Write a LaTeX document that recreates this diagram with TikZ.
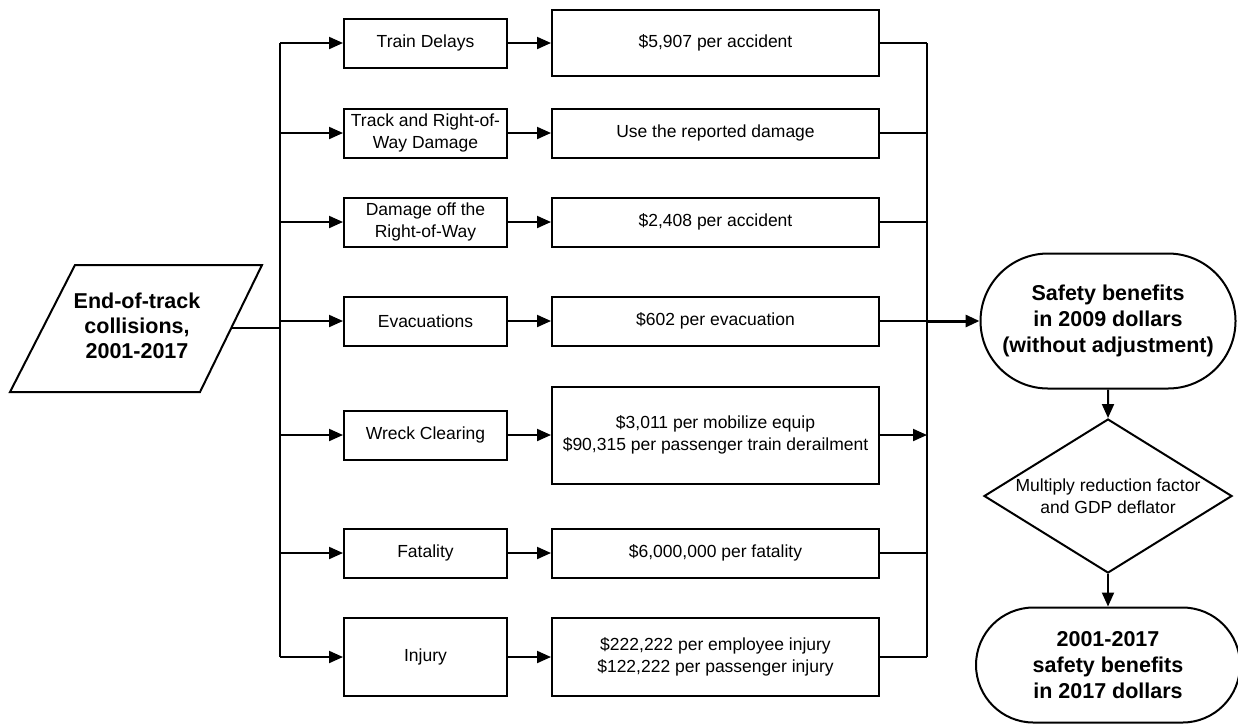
\documentclass[tikz,border=0pt]{standalone}
\usepackage{fontspec}
\setmainfont{Liberation Sans}
\usetikzlibrary{arrows.meta,shapes.geometric,shapes.misc}

\tikzset{
  ln/.style={line width=2pt},
  arr/.style={ln, -{Triangle[length=14pt,width=12pt]}},
  box/.style={draw, ln, minimum width=163pt, minimum height=49pt, inner sep=0pt,
    align=center, font=\fontsize{17.5}{21.5}\selectfont},
  cost/.style={box, minimum width=327pt},
  term/.style={draw, ln, rounded rectangle, minimum width=255pt, minimum height=135pt,
    inner sep=0pt, align=center, font=\fontsize{21.5}{26}\selectfont\bfseries},
  decide/.style={draw, ln, diamond, aspect=1.6, inner sep=0pt, minimum width=248pt,
    minimum height=154pt, align=center, font=\fontsize{17.5}{21.5}\selectfont}
}

\begin{document}
\begin{tikzpicture}[x=1pt,y=-1pt]
\useasboundingbox (0,0) rectangle (1238,724);

% source
\draw[ln] (75,265)--(262,265)--(200,392)--(10,392)--cycle;
\node[align=center, font=\fontsize{21.5}{25}\selectfont\bfseries] (src) at (137,326) {End-of-track\\collisions,\\2001-2017};
\coordinate (srcout) at (231,328);
\coordinate (jl) at (280,328);

% cost items
\node[box] (td) at (425.5,43) {Train Delays};
\node[box] (tr) at (425.5,133) {Track and Right-of-\\Way Damage};
\node[box] (dm) at (425.5,222) {Damage off the\\Right-of-Way};
\node[box] (ev) at (425.5,321) {Evacuations};
\node[box] (wc) at (425.5,435) {Wreck Clearing};
\node[box] (fa) at (425.5,553) {Fatality};
\node[box, minimum height=78pt] (inj) at (425.5,657) {Injury};

% unit costs
\node[cost, minimum height=66pt] (c1) at (715.5,43) {\$5,907 per accident};
\node[cost] (c2) at (715.5,133) {Use the reported damage};
\node[cost] (c3) at (715.5,222) {\$2,408 per accident};
\node[cost] (c4) at (715.5,321) {\$602 per evacuation};
\node[cost, minimum height=97pt] (c5) at (715.5,435) {\$3,011 per mobilize equip\\\$90,315 per passenger train derailment};
\node[cost] (c6) at (715.5,553) {\$6,000,000 per fatality};
\node[cost, minimum height=78pt] (c7) at (715.5,657) {\$222,222 per employee injury\\\$122,222 per passenger injury};

% results
\node[term] (sb) at (1108,321) {Safety benefits\\in 2009 dollars\\(without adjustment)};
\node[decide] (dec) at (1108,496) {Multiply reduction factor\\and GDP deflator};
\node[term, minimum width=264pt, minimum height=115pt] (res) at (1108,665) {2001-2017\\safety benefits\\in 2017 dollars};
\coordinate (jr) at (927,321);

% left bus
\draw[ln] (srcout) -- (jl);
\draw[ln] (jl |- td) -- (jl |- inj);
\foreach \n in {td,tr,dm,ev,wc,fa,inj}
  \draw[arr] (jl |- \n) -- (\n);
\draw[arr] (td) -- (c1);
\draw[arr] (tr) -- (c2);
\draw[arr] (dm) -- (c3);
\draw[arr] (ev) -- (c4);
\draw[arr] (wc) -- (c5);
\draw[arr] (fa) -- (c6);
\draw[arr] (inj) -- (c7);

% right bus
\draw[ln] (jr |- c1) -- (jr |- c7);
\foreach \n in {c1,c2,c3,c4,c6,c7}
  \draw[ln] (\n) -- (jr |- \n);
\draw[arr] (c5) -- (jr |- c5);
\draw[arr, line width=3pt] (jr) -- (sb);
\draw[arr] (sb) -- (dec);
\draw[arr] (dec) -- (res);
\end{tikzpicture}
\end{document}
